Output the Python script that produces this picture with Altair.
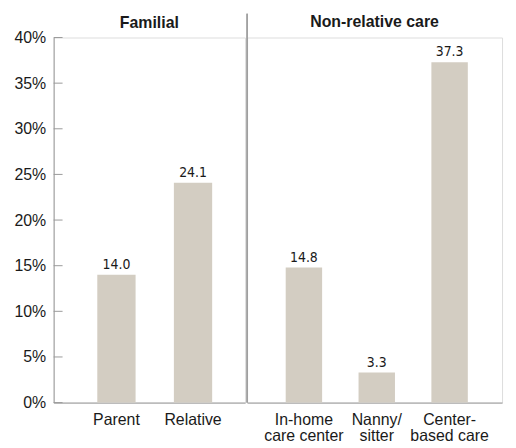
import altair as alt
import pandas as pd

fam_title = "Familial"
fam_cats = ["Parent", "Relative"]
fam_vals = [14.0, 24.1]

non_title = "Non-relative care"
non_cats = ["In-home|care center", "Nanny/|sitter", "Center-|based care"]
non_vals = [14.8, 3.3, 37.3]

y_ticks = [0, 5, 10, 15, 20, 25, 30, 35, 40]

BAR = "#d3cdc2"
GRAY = "#9a9a9a"
TXT = "#1a1a1a"
FONT = "Liberation Sans"
NARROW = "DejaVu Sans Condensed, Liberation Sans Narrow, Liberation Sans"
H = 368

yscale = alt.Scale(domain=[0, 40], nice=False)


def panel(cats, vals, title, width, left_axis, align):
    df = pd.DataFrame({"cat": cats, "val": vals})
    x = alt.X("cat:N", sort=cats, title=None,
              scale=alt.Scale(paddingInner=0.5, paddingOuter=0.5, align=align),
              axis=alt.Axis(labelAngle=0, ticks=False, domainColor=GRAY,
                            labelFont=FONT, labelFontSize=16, labelColor=TXT,
                            labelPadding=9, labelLineHeight=16,
                            labelExpr="split(datum.label, '|')"))
    if left_axis:
        yax = alt.Axis(values=y_ticks, ticks=False, grid=False, domainColor=GRAY,
                       labelFont=FONT, labelFontSize=16, labelColor=TXT,
                       labelPadding=8, labelExpr="datum.value + '%'")
    else:
        yax = None
    base = alt.Chart(df)
    bars = base.mark_bar(color=BAR).encode(
        x=x, y=alt.Y("val:Q", scale=yscale, axis=yax, title=None))
    labels = base.mark_text(baseline="bottom", dy=-3, font=NARROW, fontSize=14,
                            color=TXT).encode(
        x=alt.X("cat:N", sort=cats), y=alt.Y("val:Q", scale=yscale),
        text=alt.Text("val:Q", format=".1f"))
    layers = [bars, labels]
    if left_axis:
        tdf = pd.DataFrame({"t": y_ticks})
        ticks = alt.Chart(tdf).mark_rule(color=GRAY, strokeWidth=1).encode(
            x=alt.value(0), x2=alt.value(9), y=alt.Y("t:Q", scale=yscale))
        layers.append(ticks)
        spacer = alt.Chart(df).mark_rule(strokeOpacity=0, opacity=0).encode(
            x=alt.value(width), y=alt.value(-24), y2=alt.value(0))
        layers.append(spacer)
    else:
        div = alt.Chart(df).mark_rule(color=GRAY, strokeWidth=1).encode(
            x=alt.value(0), y=alt.value(-24), y2=alt.value(H))
        layers.append(div)
    return alt.layer(*layers).properties(
        width=width, height=H,
        title=alt.TitleParams(title, font=FONT, fontSize=16, fontWeight="bold",
                              color=TXT, offset=-17, anchor="middle"))


left = panel(fam_cats, fam_vals, fam_title, 193, True, 0.57)
right = panel(non_cats, non_vals, non_title, 257, False, 0.53)

chart = alt.hconcat(left, right, spacing=0).configure_view(stroke=None).configure(
    background="white").properties(
    padding={"left": 5, "top": 3, "right": 5, "bottom": 0})

chart.save("out.html", embed_options={"renderer": "svg", "actions": False})
